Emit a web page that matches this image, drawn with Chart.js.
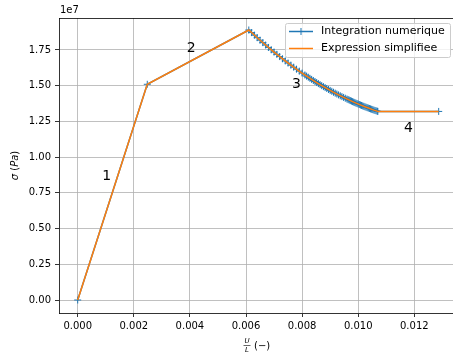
<!DOCTYPE html>
<html>
<head>
<meta charset="utf-8">
<script src="https://cdn.jsdelivr.net/npm/chart.js@4.4.0/dist/chart.umd.min.js"></script>
<style>
html, body { margin: 0; padding: 0; background: #fff; }
canvas { display: block; }
</style>
</head>
<body>
<canvas id="grafico" width="453" height="358"></canvas>
<script>

// Integration numerique: U/L (-) e sigma (Pa)
var deformazioneNum = [0, 0.00248,
	0.00610, 0.00620, 0.00630, 0.00640, 0.00650, 0.00660, 0.00670, 0.00680, 0.00690, 0.00700,
	0.00710, 0.00720, 0.00730, 0.00740, 0.00750, 0.00760, 0.00770, 0.00780, 0.00790, 0.00800, 0.00810,
	0.00816, 0.00822, 0.00828, 0.00834, 0.00840, 0.00846, 0.00852, 0.00858, 0.00864, 0.00870,
	0.00876, 0.00882, 0.00888, 0.00894, 0.00900, 0.00906, 0.00912, 0.00918, 0.00924, 0.00930,
	0.00936, 0.00942, 0.00948, 0.00954, 0.00960,
	0.00964, 0.00968, 0.00972, 0.00976, 0.00980, 0.00984, 0.00988, 0.00992, 0.00996, 0.01000,
	0.01004, 0.01008, 0.01012, 0.01016, 0.01020, 0.01024, 0.01028, 0.01032, 0.01036, 0.01040,
	0.01044, 0.01048, 0.01052, 0.01056, 0.01060, 0.01064, 0.01068, 0.01070,
	0.01287];
var sigmaNum = [0, 1.510e7,
	1.8900e7, 1.8718e7, 1.8539e7, 1.8362e7, 1.8187e7, 1.8016e7, 1.7847e7, 1.7680e7, 1.7516e7, 1.7355e7,
	1.7196e7, 1.7040e7, 1.6886e7, 1.6735e7, 1.6587e7, 1.6441e7, 1.6298e7, 1.6157e7, 1.6019e7, 1.5884e7, 1.5751e7,
	1.5672e7, 1.5595e7, 1.5518e7, 1.5442e7, 1.5367e7, 1.5294e7, 1.5221e7, 1.5149e7, 1.5078e7, 1.5007e7,
	1.4938e7, 1.4870e7, 1.4803e7, 1.4736e7, 1.4671e7, 1.4606e7, 1.4543e7, 1.4480e7, 1.4418e7, 1.4357e7,
	1.4297e7, 1.4238e7, 1.4180e7, 1.4123e7, 1.4067e7,
	1.4030e7, 1.3993e7, 1.3957e7, 1.3922e7, 1.3886e7, 1.3852e7, 1.3817e7, 1.3783e7, 1.3749e7, 1.3716e7,
	1.3683e7, 1.3651e7, 1.3619e7, 1.3587e7, 1.3556e7, 1.3525e7, 1.3495e7, 1.3465e7, 1.3436e7, 1.3407e7,
	1.3378e7, 1.3350e7, 1.3322e7, 1.3294e7, 1.3267e7, 1.3241e7, 1.3215e7, 1.3202e7,
	1.3200e7];

// Expression simplifiee
var deformazioneSimp = [0, 0.00248, 0.00610, 0.00640, 0.00670, 0.00702, 0.00734, 0.00766, 0.00797,
	0.00827, 0.00856, 0.00884, 0.00911, 0.00937, 0.00961, 0.00984, 0.01005, 0.01024, 0.01041,
	0.01056, 0.01067, 0.01070, 0.01287];
var sigmaSimp = [0, 1.510e7, 1.890e7, 1.836e7, 1.785e7, 1.732e7, 1.683e7, 1.635e7, 1.592e7,
	1.553e7, 1.517e7, 1.485e7, 1.455e7, 1.429e7, 1.406e7, 1.385e7, 1.368e7, 1.353e7, 1.340e7,
	1.329e7, 1.322e7, 1.320e7, 1.320e7];

var nomiSerie = ['Integration numerique', 'Expression simplifiee'];
var xTicks = [0, 0.002, 0.004, 0.006, 0.008, 0.010, 0.012];
var yTicks = [0, 0.25e7, 0.5e7, 0.75e7, 1.0e7, 1.25e7, 1.5e7, 1.75e7];

// numeri delle fasi
var fasi = ['1', '2', '3', '4'];
var fasiX = [0.00103, 0.00405, 0.0078, 0.01179];
var fasiY = [0.863e7, 1.76e7, 1.512e7, 1.20e7];

var BLU = '#1f77b4';
var ARANCIO = '#ff7f0e';
var FONT = '"DejaVu Sans", sans-serif';

function punti(xs, ys) {
	return xs.map(function (x, i) { return {x: x, y: ys[i]}; });
}

var decorazioni = {
	id: 'decorazioni',
	afterDraw: function (chart) {
		var ctx = chart.ctx;
		var area = chart.chartArea;
		var sx = chart.scales.x;
		var sy = chart.scales.y;
		ctx.save();

		// spina superiore
		ctx.strokeStyle = '#000';
		ctx.lineWidth = 0.8;
		ctx.beginPath();
		ctx.moveTo(area.left, area.top + 0.5);
		ctx.lineTo(area.right, area.top + 0.5);
		ctx.stroke();

		// numeri 1..4
		ctx.fillStyle = '#000';
		ctx.font = '14px ' + FONT;
		ctx.textAlign = 'center';
		ctx.textBaseline = 'middle';
		for (var i = 0; i < fasi.length; i++) {
			ctx.fillText(fasi[i], sx.getPixelForValue(fasiX[i]), sy.getPixelForValue(fasiY[i]));
		}

		// offset 1e7
		ctx.font = '10px ' + FONT;
		ctx.textAlign = 'left';
		ctx.fillText('1e7', area.left + 1, 10);

		// legenda
		var lx = 285.5, ly = 23.5, lw = 165, lh = 34;
		ctx.fillStyle = 'rgba(255,255,255,0.8)';
		ctx.strokeStyle = '#cccccc';
		ctx.lineWidth = 1;
		ctx.beginPath();
		ctx.roundRect(lx, ly, lw, lh, 2);
		ctx.fill();
		ctx.stroke();

		var righe = [31.5, 48.5];
		var colori = [BLU, ARANCIO];
		for (var j = 0; j < 2; j++) {
			ctx.strokeStyle = colori[j];
			ctx.lineWidth = 1.5;
			ctx.beginPath();
			ctx.moveTo(289, righe[j]);
			ctx.lineTo(313, righe[j]);
			ctx.stroke();
			if (j == 0) {
				ctx.lineWidth = 1;
				ctx.beginPath();
				ctx.moveTo(301, righe[j] - 3.5);
				ctx.lineTo(301, righe[j] + 3.5);
				ctx.moveTo(297.5, righe[j]);
				ctx.lineTo(304.5, righe[j]);
				ctx.stroke();
			}
			ctx.fillStyle = '#000';
			ctx.font = '11px ' + FONT;
			ctx.textAlign = 'left';
			ctx.textBaseline = 'middle';
			ctx.fillText(nomiSerie[j], 321, righe[j]);
		}

		// etichetta asse x: U/L (-)
		ctx.fillStyle = '#000';
		ctx.textAlign = 'center';
		ctx.textBaseline = 'middle';
		ctx.font = 'italic 7px ' + FONT;
		ctx.fillText('U', 247, 341);
		ctx.fillText('L', 247, 350);
		ctx.strokeStyle = '#000';
		ctx.lineWidth = 0.6;
		ctx.beginPath();
		ctx.moveTo(243.5, 345.5);
		ctx.lineTo(250.5, 345.5);
		ctx.stroke();
		ctx.font = '10px ' + FONT;
		ctx.textAlign = 'left';
		ctx.fillText('(\u2212)', 254, 346);

		// etichetta asse y: sigma (Pa)
		ctx.translate(15, (area.top + area.bottom) / 2);
		ctx.rotate(-Math.PI / 2);
		var pezzi = [['\u03c3', 'italic '], [' (', ''], ['Pa', 'italic '], [')', '']];
		var totale = 0;
		pezzi.forEach(function (p) {
			ctx.font = p[1] + '10px ' + FONT;
			totale += ctx.measureText(p[0]).width;
		});
		var pos = -totale / 2;
		ctx.textAlign = 'left';
		pezzi.forEach(function (p) {
			ctx.font = p[1] + '10px ' + FONT;
			ctx.fillText(p[0], pos, 0);
			pos += ctx.measureText(p[0]).width;
		});

		ctx.restore();
	}
};

var config_grafico = {
	type: 'line',
	data: {
		datasets: [
			{
				label: nomiSerie[1],
				data: punti(deformazioneSimp, sigmaSimp),
				borderColor: ARANCIO,
				backgroundColor: ARANCIO,
				borderWidth: 1.5,
				pointRadius: 0,
				fill: false,
				tension: 0
			},
			{
				label: nomiSerie[0],
				data: punti(deformazioneNum, sigmaNum),
				borderColor: BLU,
				backgroundColor: BLU,
				borderWidth: 1.5,
				pointStyle: 'cross',
				pointRadius: 3.5,
				pointBorderWidth: 1,
				pointBorderColor: BLU,
				fill: false,
				tension: 0
			}
		]
	},
	options: {
		responsive: false,
		animation: false,
		devicePixelRatio: 1,
		layout: { autoPadding: false, padding: { top: 18, right: 0, left: 0, bottom: 0 } },
		plugins: {
			legend: { display: false },
			tooltip: { enabled: false }
		},
		scales: {
			x: {
				type: 'linear',
				min: -0.000667,
				max: 0.01338,
				afterBuildTicks: function (s) { s.ticks = xTicks.map(function (v) { return {value: v}; }); },
				afterFit: function (s) { s.height = 45; s.paddingLeft = 0; s.paddingRight = 0; },
				grid: { color: '#b0b0b0', lineWidth: 0.8, drawTicks: true, tickLength: 4, tickColor: '#000', tickWidth: 0.8 },
				border: { display: true, color: '#000', width: 0.8 },
				ticks: {
					autoSkip: false,
					maxRotation: 0,
					padding: 3,
					color: '#000',
					font: { family: FONT, size: 10 },
					callback: function (v) { return v.toFixed(3); }
				}
			},
			y: {
				type: 'linear',
				min: -0.091e7,
				max: 1.974e7,
				afterBuildTicks: function (s) { s.ticks = yTicks.map(function (v) { return {value: v}; }); },
				afterFit: function (s) { s.width = 59; s.paddingTop = 0; s.paddingBottom = 0; },
				grid: { color: '#b0b0b0', lineWidth: 0.8, drawTicks: true, tickLength: 4, tickColor: '#000', tickWidth: 0.8 },
				border: { display: true, color: '#000', width: 0.8 },
				ticks: {
					autoSkip: false,
					padding: 4,
					color: '#000',
					font: { family: FONT, size: 10 },
					callback: function (v) { return (v / 1e7).toFixed(2); }
				}
			}
		}
	},
	plugins: [decorazioni]
};

var grafico = new Chart(document.getElementById('grafico').getContext('2d'), config_grafico);
</script>
</body>
</html>
